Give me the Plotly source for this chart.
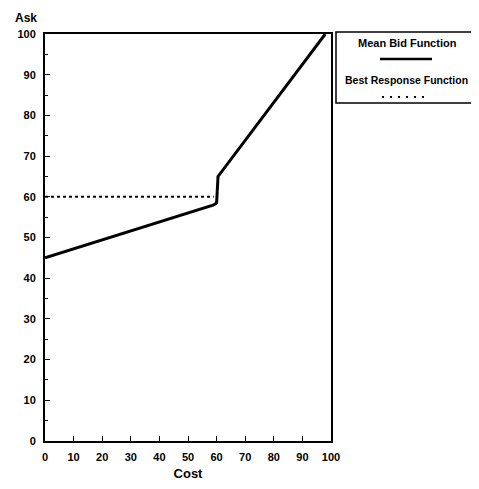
import plotly.graph_objects as go

# Data
cost_bid = [0, 59, 60, 60.5, 98]
ask_bid = [45, 58, 58.5, 65, 100]
cost_br = [0, 59]
ask_br = [60, 60]
x_ticks = [0, 10, 20, 30, 40, 50, 60, 70, 80, 90, 100]
y_ticks = [0, 10, 20, 30, 40, 50, 60, 70, 80, 90, 100]

FONT = "Liberation Sans"

fig = go.Figure()
fig.add_trace(go.Scatter(x=cost_bid, y=ask_bid, mode="lines",
                         line=dict(color="black", width=3), name="Mean Bid Function",
                         showlegend=False))
fig.add_trace(go.Scatter(x=cost_br, y=ask_br, mode="lines",
                         line=dict(color="black", width=2, dash="dot"), name="Best Response Function",
                         showlegend=False))

OFF = 8  # page offset
W, H = 479 - OFF, 489 - 2 * OFF
L, T = 45 - OFF, 34 - OFF
PW, PH = 331 - 45, 441 - 34
R = W - L - PW
B = H - T - PH

fig.update_layout(
    width=W, height=H,
    margin=dict(l=L, r=R, t=T, b=B, autoexpand=False),
    plot_bgcolor="white", paper_bgcolor="white",
    font=dict(family=FONT, color="black", size=11),
    xaxis=dict(range=[0, 100], tickvals=x_ticks, ticks="inside", ticklen=5, tickwidth=1.2,
               tickcolor="black", showline=True, linecolor="black", linewidth=2, mirror=True,
               showgrid=False, zeroline=False, ticklabelstandoff=5, automargin=False,
               tickfont=dict(family=FONT, size=11, weight="bold"),
               title=dict(text="<b>Cost</b>", font=dict(size=13), standoff=9)),
    yaxis=dict(range=[0, 100], tickvals=y_ticks, ticks="inside", ticklen=5, tickwidth=1.2,
               tickcolor="black", showline=True, linecolor="black", linewidth=2, mirror=True,
               showgrid=False, zeroline=False, ticklabelstandoff=5, automargin=False,
               minor=dict(dtick=5, ticks="inside", ticklen=3, tickcolor="black"),
               tickfont=dict(family=FONT, size=11, weight="bold")),
)

# helpers: screen pixel -> paper coords
def px(xs):
    return (xs - OFF - L) / PW
def py(ys):
    return (T + PH - (ys - OFF)) / PH

# "Ask" label above the y-axis
fig.add_annotation(text="<b>Ask</b>", xref="paper", yref="paper", x=px(13), y=py(9),
                   xanchor="left", yanchor="top", showarrow=False,
                   font=dict(size=12, family=FONT))

# Legend box
fig.add_shape(type="rect", xref="paper", yref="paper",
              x0=px(336), x1=px(476), y0=py(103), y1=py(32),
              line=dict(color="black", width=1.5), fillcolor="white")
fig.add_annotation(text="<b>Mean Bid Function</b>", xref="paper", yref="paper",
                   x=px(407), y=py(43), xanchor="center", yanchor="middle",
                   showarrow=False, font=dict(size=11, family=FONT))
fig.add_shape(type="line", xref="paper", yref="paper",
              x0=px(380), x1=px(432), y0=py(59), y1=py(59),
              line=dict(color="black", width=2.5))
fig.add_annotation(text="<b>Best Response Function</b>", xref="paper", yref="paper",
                   x=px(406), y=py(80), xanchor="center", yanchor="middle",
                   showarrow=False, font=dict(size=10.5, family=FONT))
fig.add_shape(type="line", xref="paper", yref="paper",
              x0=px(382), x1=px(430), y0=py(97), y1=py(97),
              line=dict(color="black", width=2, dash="2px,6px"))

fig.write_html("out.html")
